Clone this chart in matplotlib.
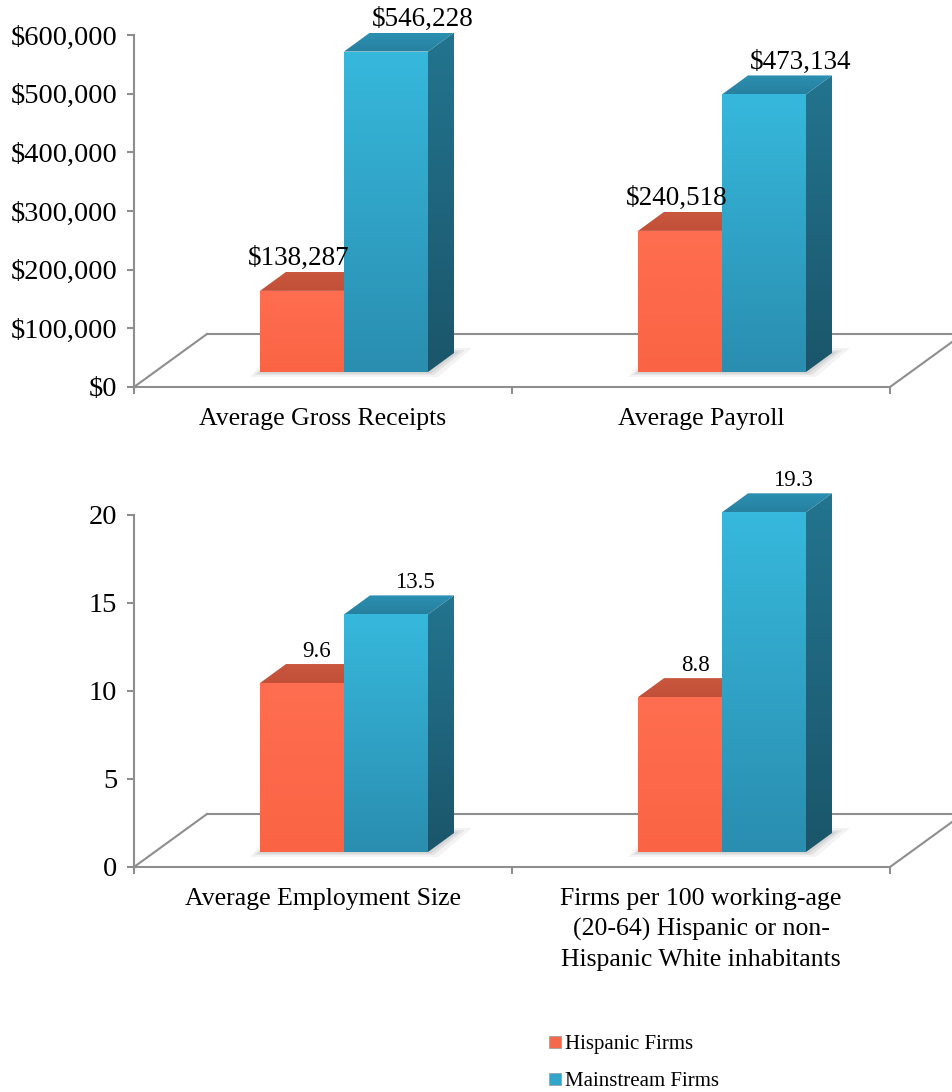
"""Hispanic vs mainstream firms: two Excel-style 3D bar panels, drawn by hand."""
import matplotlib

matplotlib.use("Agg")
import matplotlib.pyplot as plt
import numpy as np
from matplotlib.colors import LinearSegmentedColormap
from matplotlib.lines import Line2D
from matplotlib.patches import Polygon

# ---- data ----------------------------------------------------------------
series_names = ["Hispanic Firms", "Mainstream Firms"]

money_categories = ["Average Gross Receipts", "Average Payroll"]
money_hispanic = [138287, 240518]
money_mainstream = [546228, 473134]
money_ticks = [0, 100000, 200000, 300000, 400000, 500000, 600000]
money_ticklabels = ["$0", "$100,000", "$200,000", "$300,000",
                    "$400,000", "$500,000", "$600,000"]

count_categories = ["Average Employment Size",
                    "Firms per 100 working-age\n(20-64) Hispanic or non-\n"
                    "Hispanic White inhabitants"]
count_hispanic = [9.6, 8.8]
count_mainstream = [13.5, 19.3]
count_ticks = [0, 5, 10, 15, 20]
count_ticklabels = ["0", "5", "10", "15", "20"]

# ---- style / layout (pixels at dpi 100) ------------------------------------
W, H = 952, 1092
AX_LEFT, AX_RIGHT, AX_H = 134, 890, 352
FLOOR_DX, FLOOR_DY = 73, 53      # depth of the floor
BAR_DX0, BAR_DY0 = 21, 15        # bars' front face sits this far back
BAR_DX, BAR_DY = 26, 19          # depth of a bar
BAR_W = 84
GRAY = "#8E8E8E"
FONT = "Liberation Serif"

ORANGE = dict(front=("#FF6E50", "#FA6444"), top=("#C9573E", "#C24F37"),
              side=("#B8482F", "#A33D27"), flat="#F26A4B")
BLUE = dict(front=("#36B8DC", "#2A8EB0"), top=("#2C90B2", "#27809F"),
            side=("#23748F", "#1B566B"), flat="#32A6CA")

plt.rcParams["font.family"] = [FONT, "DejaVu Serif"]


def shade(ax, verts, c_top, c_bot, z):
    """Fill a polygon with a vertical gradient."""
    verts = np.asarray(verts)
    poly = Polygon(verts, closed=True, facecolor="none", edgecolor="none")
    ax.add_patch(poly)
    cmap = LinearSegmentedColormap.from_list("g", [c_bot, c_top])
    grad = np.linspace(0, 1, 64).reshape(-1, 1)
    x0, y0 = verts.min(axis=0)
    x1, y1 = verts.max(axis=0)
    im = ax.imshow(grad, cmap=cmap, origin="lower", aspect="auto",
                   extent=(x0, x1, y0, y1), zorder=z, interpolation="bilinear")
    im.set_clip_box(ax.figure.bbox)   # bars may poke above the value axis
    im.set_clip_path(poly)


def panel(fig, bottom_px, ymax, cats, hisp, main, ticks, ticklabels, fmt,
          label_dx, value_size):
    ax = fig.add_axes([AX_LEFT / W, (H - bottom_px) / H,
                       (AX_RIGHT - AX_LEFT) / W, AX_H / H])
    n = len(cats)
    sx = n / (AX_RIGHT - AX_LEFT)    # data units per pixel
    sy = ymax / AX_H

    # floor outline
    fdx, fdy = FLOOR_DX * sx, FLOOR_DY * sy
    kw = dict(color=GRAY, lw=1.5, clip_on=False, zorder=1)
    ax.plot([0, fdx], [0, fdy], **kw)
    ax.plot([fdx, n + fdx + 1], [fdy, fdy], **kw)
    ax.plot([n, n + fdx], [0, fdy], **kw)

    x_off, y0 = BAR_DX0 * sx, BAR_DY0 * sy
    ddx, ddy = BAR_DX * sx, BAR_DY * sy
    bw = BAR_W * sx
    for i, (vh, vm) in enumerate(zip(hisp, main)):
        c = i + 0.5 + x_off
        # soft shadow under the pair
        for k, a in [(10, 0.06), (6, 0.08), (3, 0.10)]:
            ex, ey = k * sx, k * sy * 0.5
            ax.add_patch(Polygon(
                [(c - bw - ex, y0 - ey), (c + bw + ex, y0 - ey),
                 (c + bw + ddx + ex * 1.8, y0 + ddy + ey),
                 (c - bw + ddx - ex, y0 + ddy + ey)],
                closed=True, facecolor="#404040", edgecolor="none",
                alpha=a, zorder=2))
        for x0, v, col, z in [(c - bw, vh, ORANGE, 3), (c, vm, BLUE, 6)]:
            x1, yt = x0 + bw, y0 + v
            shade(ax, [(x1, y0), (x1 + ddx, y0 + ddy), (x1 + ddx, yt + ddy),
                       (x1, yt)], *col["side"], z)
            shade(ax, [(x0, yt), (x1, yt), (x1 + ddx, yt + ddy),
                       (x0 + ddx, yt + ddy)], *col["top"], z + 1)
            shade(ax, [(x0, y0), (x1, y0), (x1, yt), (x0, yt)],
                  *col["front"], z + 2)
        # value labels
        for x0, v, dx in [(c - bw, vh, label_dx[0]), (c, vm, label_dx[1])]:
            ax.text(x0 + bw / 2 + ddx / 2 + dx * sx, y0 + v + ddy + 7 * sy,
                    fmt(v), ha="center", va="baseline", fontsize=value_size,
                    zorder=20, clip_on=False)

    ax.set_xlim(0, n)
    ax.set_ylim(0, ymax)
    for s in ["top", "right"]:
        ax.spines[s].set_visible(False)
    for s in ["left", "bottom"]:
        ax.spines[s].set_color(GRAY)
        ax.spines[s].set_linewidth(1.5)
        ax.spines[s].set_zorder(1)
    ax.set_yticks(ticks, ticklabels)
    ax.tick_params(axis="y", length=5, width=1.5, color=GRAY, pad=7,
                   labelsize=20.5)
    ax.set_xticks(range(n + 1), [""] * (n + 1))
    ax.set_xticks(np.arange(n) + 0.5, cats, minor=True)
    ax.tick_params(axis="x", which="major", length=5, width=1.5, color=GRAY)
    ax.tick_params(axis="x", which="minor", length=0, pad=15, labelsize=18.5)
    for lab in ax.get_xticklabels(minor=True):
        lab.set_linespacing(1.45)
    ax.set_facecolor("none")
    return ax


fig = plt.figure(figsize=(W / 100, H / 100), dpi=100)

panel(fig, 387, 600000, money_categories, money_hispanic, money_mainstream,
      money_ticks, money_ticklabels, lambda v: f"${v:,.0f}", (-16, 24), 19.5)
panel(fig, 867, 20, count_categories, count_hispanic, count_mainstream,
      count_ticks, count_ticklabels, lambda v: f"{v:.1f}", (2, 16), 16.5)

handles = [Line2D([], [], ls="none", marker="s", markersize=8,
                  markerfacecolor=c, markeredgecolor="#999999",
                  markeredgewidth=0.5)
           for c in (ORANGE["flat"], BLUE["flat"])]
fig.legend(handles, series_names, loc="upper left",
           bbox_to_anchor=(540 / W, 1 - 1026 / H), frameon=False,
           fontsize=15, handlelength=0.6, handletextpad=0.2,
           labelspacing=0.85, borderaxespad=0)

fig.savefig("out.png", dpi=100, facecolor="white")
